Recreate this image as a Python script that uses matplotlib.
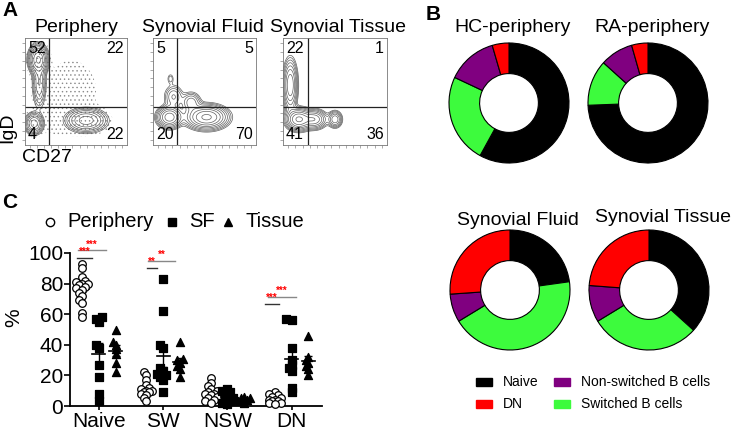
import numpy as np
import matplotlib
matplotlib.use("Agg")
import matplotlib.pyplot as plt
from matplotlib.lines import Line2D
from matplotlib.patches import Rectangle

plt.rcParams["font.family"] = ["Liberation Sans", "DejaVu Sans"]
plt.rcParams["hatch.color"] = "#8a8a8a"
plt.rcParams["hatch.linewidth"] = 0.5

W, H = 732, 432

# ---------------- panel A: flow plots ----------------
flow_titles = ["Periphery", "Synovial Fluid", "Synovial Tissue"]
# quadrant percentages: upper-left, upper-right, lower-left, lower-right
flow_quadrants = [[52, 22, 4, 22], [5, 5, 20, 70], [22, 1, 41, 36]]
flow_gate_x = [0.235, 0.233, 0.237]
flow_gate_y = 0.355
# density blobs: x, y, sd_x, sd_y, weight
periphery_blobs = [(0.13, 0.80, 0.045, 0.065, 1.0),
                   (0.14, 0.58, 0.035, 0.12, 0.30),
                   (0.09, 0.20, 0.045, 0.05, 0.55),
                   (0.60, 0.23, 0.10, 0.055, 0.55)]
periphery_cloud = [(0.45, 0.50, 0.17, 0.20, 0.06),
                   (0.35, 0.22, 0.15, 0.08, 0.05)]
sf_blobs = [(0.16, 0.26, 0.06, 0.05, 0.8),
            (0.52, 0.26, 0.10, 0.055, 1.0),
            (0.37, 0.40, 0.05, 0.05, 0.25),
            (0.20, 0.45, 0.05, 0.06, 0.2),
            (0.17, 0.62, 0.02, 0.03, 0.08)]
tissue_blobs = [(0.07, 0.56, 0.035, 0.12, 0.6),
                (0.15, 0.24, 0.06, 0.05, 1.0),
                (0.30, 0.24, 0.06, 0.045, 0.6),
                (0.50, 0.24, 0.035, 0.04, 0.4)]
flow_blobs = [periphery_blobs, sf_blobs, tissue_blobs]
flow_boxes = [(25, 38, 102, 107), (153, 38, 103, 107), (283, 38, 104, 107)]

# ---------------- panel B: donuts ----------------
donut_titles = ["HC-periphery", "RA-periphery", "Synovial Fluid", "Synovial Tissue"]
# fractions in order Naive, Switched, Non-switched, DN (clockwise from 12 o'clock)
hc_periphery = [0.58, 0.24, 0.135, 0.045]
ra_periphery = [0.744, 0.123, 0.089, 0.044]
synovial_fluid = [0.228, 0.435, 0.076, 0.261]
synovial_tissue = [0.367, 0.296, 0.099, 0.238]
donut_colors = ["#000000", "#3dfb3d", "#800080", "#ff0000"]
donut_centers = [(509, 103), (648, 103), (510, 290), (649, 290)]
legend_labels = ["Naive", "DN", "Non-switched B cells", "Switched B cells"]
legend_colors = ["#000000", "#ff0000", "#800080", "#3dfb3d"]

# ---------------- panel C: scatter ----------------
groups = ["Naive", "SW", "NSW", "DN"]
naive_periphery = [93, 90, 84, 82, 81, 80, 80, 79, 78, 77, 76, 74, 72, 69, 67, 61, 58]
naive_sf = [58, 57, 55, 40, 38, 27, 19, 8, 3]
naive_tissue = [50, 42, 40, 37, 34, 28, 22]
sw_periphery = [22, 20, 17, 14, 12, 11, 10, 10, 9, 9, 8, 7, 5, 3]
sw_sf = [83, 62, 40, 38, 25, 23, 21, 20, 19, 17, 9]
sw_tissue = [42, 31, 30, 28, 26, 24, 19]
nsw_periphery = [18, 15, 13, 11, 10, 9, 8, 8, 7, 6, 5, 4, 3, 2]
nsw_sf = [11, 10, 9, 8, 6, 5, 4, 3, 2, 1]
nsw_tissue = [6, 5, 5, 4, 3, 2]
dn_periphery = [9, 8, 7, 6, 5, 4, 4, 3, 3, 2, 2, 1]
dn_sf = [57, 56, 38, 30, 27, 25, 23, 12, 9]
dn_tissue = [46, 32, 30, 28, 26, 24, 20]
periphery_data = [naive_periphery, sw_periphery, nsw_periphery, dn_periphery]
sf_data = [naive_sf, sw_sf, nsw_sf, dn_sf]
tissue_data = [naive_tissue, sw_tissue, nsw_tissue, dn_tissue]
# significance: group, x-start offset, x-end offset, y, colour, label
sig_lines = [(0, -0.33, 0.11, 101.7, "#888888", "***"),
             (0, -0.34, -0.11, 96.7, "#333333", "***"),
             (1, -0.23, 0.19, 95.0, "#888888", "**"),
             (1, -0.25, -0.09, 90.2, "#333333", "**"),
             (3, -0.37, 0.06, 71.2, "#888888", "***"),
             (3, -0.42, -0.20, 66.6, "#333333", "***")]


def fx(px):
    return px / W


def fy(py):
    return 1 - py / H


def density(blobs, X, Y):
    Z = np.zeros_like(X)
    for x, y, sx, sy, w in blobs:
        Z += w * np.exp(-((X - x) ** 2 / (2 * sx ** 2) + (Y - y) ** 2 / (2 * sy ** 2)))
    return Z


def swarm(values, step_px=3.0, min_px=4.0, xunit=64.3, yunit=1.53):
    # spread close values sideways a little, like a Prism column scatter
    order = np.argsort(values)
    placed = []
    offs = np.zeros(len(values))
    for i in order:
        v = values[i]
        best, best_d = 0.0, -1
        for k in [0, -1, 1, -2, 2]:
            dx = k * step_px
            d = min([np.hypot(dx - pdx, (v - pv) * yunit) for pdx, pv in placed] or [99])
            if d >= min_px:
                best = dx
                break
            if d > best_d:
                best, best_d = dx, d
        placed.append((best, v))
        offs[i] = best / xunit
    return offs


fig = plt.figure(figsize=(W / 100, H / 100), dpi=100)

# ----- panel A -----
gx = np.linspace(0, 1, 220)
X, Y = np.meshgrid(gx, gx)
for i, (left, top, w, h) in enumerate(flow_boxes):
    ax = fig.add_axes([fx(left), fy(top + h), w / W, h / H])
    Z = density(flow_blobs[i], X, Y)
    zmax = Z.max()
    if i == 0:
        Zc = Z + density(periphery_cloud, X, Y)
        ax.contourf(X, Y, Zc, levels=[0.02 * zmax, 10 * zmax], colors="none",
                    hatches=["...."])
    ax.contour(X, Y, Z, levels=zmax * np.geomspace(0.04, 0.9, 9),
               colors="#606060", linewidths=0.5)
    ax.axvline(flow_gate_x[i], color="#222222", lw=0.9)
    ax.axhline(flow_gate_y, color="#222222", lw=0.9)
    ax.set_xlim(0, 1)
    ax.set_ylim(0, 1)
    ax.set_xticks(np.linspace(0.05, 0.95, 14))
    ax.set_yticks(np.linspace(0.05, 0.95, 12))
    ax.tick_params(length=2, width=0.5, color="#888888", labelbottom=False,
                   labelleft=False)
    for s in ax.spines.values():
        s.set_linewidth(0.6)
        s.set_color("#777777")
    q = flow_quadrants[i]
    ax.text(0.03, 0.97, str(q[0]), transform=ax.transAxes, ha="left", va="top", fontsize=11.5)
    ax.text(0.97, 0.97, str(q[1]), transform=ax.transAxes, ha="right", va="top", fontsize=11.5)
    ax.text(0.03, 0.03, str(q[2]), transform=ax.transAxes, ha="left", va="bottom", fontsize=11.5)
    ax.text(0.97, 0.03, str(q[3]), transform=ax.transAxes, ha="right", va="bottom", fontsize=11.5)

fig.text(fx(76), fy(28), flow_titles[0], ha="center", va="center", fontsize=14)
fig.text(fx(203), fy(28), flow_titles[1], ha="center", va="center", fontsize=14)
fig.text(fx(338), fy(28), flow_titles[2], ha="center", va="center", fontsize=14)
fig.text(fx(8), fy(128), "IgD", rotation=90, ha="center", va="center", fontsize=14)
fig.text(fx(47), fy(158), "CD27", ha="center", va="center", fontsize=14)

# ----- panel B -----
donut_data = [hc_periphery, ra_periphery, synovial_fluid, synovial_tissue]
R = 60
for i, (cx, cy) in enumerate(donut_centers):
    ax = fig.add_axes([fx(cx - R - 2), fy(cy + R + 2), (2 * R + 4) / W, (2 * R + 4) / H])
    ax.pie(donut_data[i], colors=donut_colors, startangle=90, counterclock=False,
           radius=R / (R + 2),
           wedgeprops=dict(width=0.51 * R / (R + 2), edgecolor="black", linewidth=0.8))
    ax.set_xlim(-1, 1)
    ax.set_ylim(-1, 1)
    ax.set_aspect("auto")
    ax.axis("off")

fig.text(fx(513), fy(28), donut_titles[0], ha="center", va="center", fontsize=14)
fig.text(fx(652), fy(28), donut_titles[1], ha="center", va="center", fontsize=14)
fig.text(fx(518), fy(220), donut_titles[2], ha="center", va="center", fontsize=14)
fig.text(fx(663), fy(218), donut_titles[3], ha="center", va="center", fontsize=14)

legend_pos = [(476, 382), (476, 404), (554, 382), (554, 404)]
for (lx, ly), lab, col in zip(legend_pos, legend_labels, legend_colors):
    fig.add_artist(Rectangle((fx(lx), fy(ly + 4)), 16 / W, 8 / H, color=col,
                             transform=fig.transFigure))
    fig.text(fx(lx + 27), fy(ly), lab, ha="left", va="center", fontsize=10)

# ----- panel C -----
ax = fig.add_axes([fx(70), fy(406), 252 / W, 153 / H])
off = 0.26
for g in range(len(groups)):
    for k, (vals, marker, fc) in enumerate([(periphery_data[g], "o", "white"),
                                            (sf_data[g], "s", "black"),
                                            (tissue_data[g], "^", "black")]):
        vals = np.array(vals, dtype=float)
        xc = g + (k - 1) * off
        xs = xc + swarm(vals)
        ax.scatter(xs, vals, marker=marker, s=30 if marker != "^" else 34,
                   facecolor=fc, edgecolor="black", linewidth=0.9, zorder=3, clip_on=False)
        m = vals.mean()
        sem = vals.std(ddof=1) / np.sqrt(len(vals))
        z = 2 if k == 0 else 4
        ax.plot([xc - 0.1, xc + 0.1], [m, m], color="black", lw=1.2, zorder=z)
        ax.errorbar(xc, m, yerr=sem, color="black", lw=1.0, capsize=3, capthick=1.0, zorder=z)

for g, x0, x1, y, col, lab in sig_lines:
    ax.plot([g + x0, g + x1], [y, y], color=col, lw=1.0, clip_on=False)
    ax.text(g + (x0 + x1) / 2, y + 0.5, lab, color="red", fontsize=7,
            ha="center", va="bottom", fontweight="bold")

ax.set_xlim(-0.45, 3.47)
ax.set_ylim(0, 100)
ax.set_yticks([0, 20, 40, 60, 80, 100])
ax.set_xticks(range(len(groups)))
ax.set_xticklabels(groups)
ax.tick_params(labelsize=15, length=4, width=1.2, pad=1)
ax.tick_params(axis="x", length=3)
for s in ["top", "right"]:
    ax.spines[s].set_visible(False)
for s in ["left", "bottom"]:
    ax.spines[s].set_linewidth(1.3)
fig.text(fx(14), fy(318), "%", rotation=90, ha="center", va="center", fontsize=15)

# legend row above panel C
leg_items = [(50, "o", "white", "Periphery"), (172, "s", "black", "SF"), (228, "^", "black", "Tissue")]
for lx, mk, fc, lab in leg_items:
    fig.add_artist(Line2D([fx(lx)], [fy(222)], marker=mk, markersize=6,
                          markerfacecolor=fc, markeredgecolor="black",
                          linestyle="none", transform=fig.transFigure))
    fig.text(fx(lx + 17), fy(222), lab, ha="left", va="center", fontsize=14.5)

# panel letters
fig.text(fx(2), fy(10), "A", ha="left", va="center", fontsize=15, fontweight="bold")
fig.text(fx(426), fy(14), "B", ha="left", va="center", fontsize=15, fontweight="bold")
fig.text(fx(2), fy(202), "C", ha="left", va="center", fontsize=15, fontweight="bold")

fig.savefig("out.png", dpi=100)
